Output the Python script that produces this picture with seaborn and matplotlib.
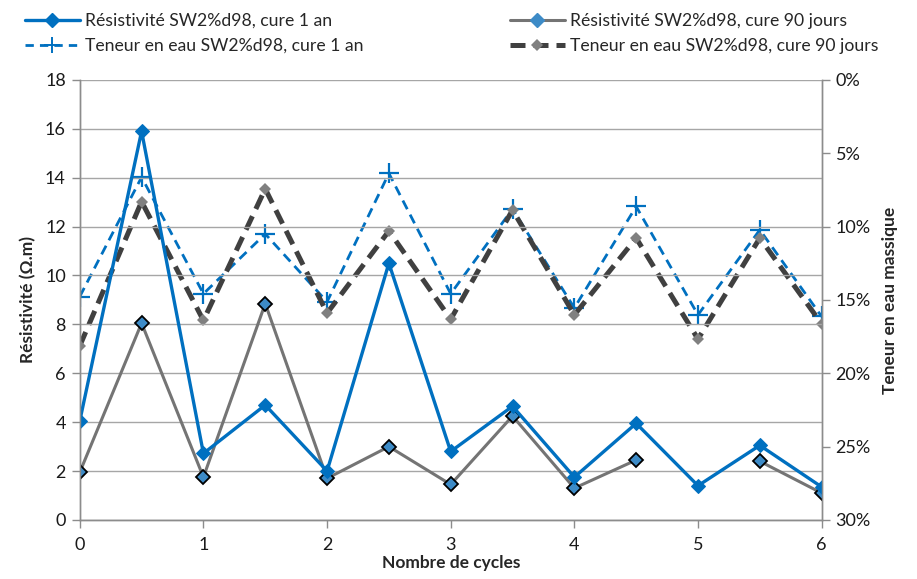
import numpy as np
import pandas as pd
import matplotlib
matplotlib.use("Agg")
import matplotlib.pyplot as plt
import seaborn as sns
from matplotlib.ticker import FuncFormatter, MultipleLocator
from matplotlib.lines import Line2D

cycles = [0, 0.5, 1, 1.5, 2, 2.5, 3, 3.5, 4, 4.5, 5, 5.5, 6]
res_1an = [4.05, 15.9, 2.72, 4.7, 2.0, 10.5, 2.8, 4.65, 1.75, 3.95, 1.4, 3.05, 1.35]
res_90j = [1.95, 8.05, 1.75, 8.85, 1.7, 3.0, 1.45, 4.25, 1.3, 2.45, np.nan, 2.4, 1.1]
eau_1an = [14.77, 6.63, 14.58, 10.5, 15.13, 6.37, 14.58, 8.8, 15.55, 8.63, 16.02, 10.22, 16.13]
eau_90j = [18.13, 8.3, 16.4, 7.43, 15.9, 10.3, 16.32, 8.87, 16.02, 10.78, 17.67, 10.78, 16.63]

lab_res_1an = "Résistivité SW2%d98, cure 1 an"
lab_res_90j = "Résistivité SW2%d98, cure 90 jours"
lab_eau_1an = "Teneur en eau SW2%d98, cure 1 an"
lab_eau_90j = "Teneur en eau SW2%d98, cure 90 jours"

sns.set_style("white")
plt.rcParams["font.family"] = ["Lato", "DejaVu Sans"]

BLUE = "#0070C0"
GRAY = "#747474"
DGRAY = "#404040"

fig = plt.figure(figsize=(9.17, 5.79), dpi=100)
ax = fig.add_axes([0.087, 0.102, 0.809, 0.76])
ax2 = ax.twinx()

df1 = pd.DataFrame({"x": cycles, "y": res_1an})
df2 = pd.DataFrame({"x": cycles, "y": res_90j})
df2["seg"] = np.cumsum(pd.isna(df2["y"]).astype(int))
df2 = df2.dropna()
df3 = pd.DataFrame({"x": cycles, "y": eau_1an})
df4 = pd.DataFrame({"x": cycles, "y": eau_90j})

ax.set_ylim(0, 18)
ax.set_xlim(0, 6)
ax.yaxis.set_major_locator(MultipleLocator(2))
ax.xaxis.set_major_locator(MultipleLocator(1))
ax.grid(axis="y", color="#a6a6a6", lw=1.0)
ax.grid(axis="x", visible=False)
ax.set_axisbelow(True)

sns.lineplot(data=df3, x="x", y="y", ax=ax2, color=BLUE, lw=2.0,
             linestyle=(0, (3.5, 2.2)), marker="+", markersize=14, mew=1.6,
             mec=BLUE, mfc=BLUE, legend=False)
sns.lineplot(data=df4, x="x", y="y", ax=ax2, color=DGRAY, lw=3.6,
             linestyle=(0, (3, 1.6)), marker="D", markersize=6, mew=0,
             mfc="#808080", legend=False)

sns.lineplot(data=df2, x="x", y="y", units="seg", estimator=None, ax=ax,
             color=GRAY, lw=2.2, marker="D", markersize=7, mfc="#3d8bc7",
             mec="black", mew=1.3, legend=False)
sns.lineplot(data=df1, x="x", y="y", ax=ax, color=BLUE, lw=2.4, marker="D",
             markersize=7, mfc=BLUE, mec=BLUE, legend=False)

ax.set_zorder(ax2.get_zorder() + 1)
ax.patch.set_visible(False)

ax2.set_ylim(30, 0)
ax2.yaxis.set_major_locator(MultipleLocator(5))
ax2.yaxis.set_major_formatter(FuncFormatter(lambda v, p: f"{v:.0f}%"))
ax2.grid(False)

for a in (ax, ax2):
    for s in a.spines.values():
        s.set_color("#8c8c8c")
        s.set_linewidth(1.0)
    a.spines["top"].set_visible(False)
    a.tick_params(axis="both", colors="#8c8c8c", labelcolor="#1a1a1a",
                  labelsize=13, length=6, width=1, direction="out")
ax.tick_params(axis="y", left=True, pad=4)
ax.tick_params(axis="x", bottom=True, pad=6)
ax2.tick_params(axis="y", right=True, pad=4)

ax.set_xlabel("Nombre de cycles", fontsize=12.5, fontweight="bold", labelpad=2)
ax.set_ylabel("Résistivité (Ω.m)", fontsize=12.5, fontweight="bold", labelpad=6)
ax2.set_ylabel("Teneur en eau massique", fontsize=12.5, fontweight="bold", labelpad=8)

h1 = Line2D([], [], color=BLUE, lw=2.4, marker="D", markersize=7, mfc=BLUE, mec=BLUE)
h2 = Line2D([], [], color=BLUE, lw=2.0, linestyle=(0, (3, 2.2)), marker="+", markersize=12, mew=1.4, mec=BLUE)
h3 = Line2D([], [], color=GRAY, lw=2.2, marker="D", markersize=7, mfc="#3d8bc7", mec="#3d8bc7")
h4 = Line2D([], [], color=DGRAY, lw=3.6, linestyle=(0, (3, 1.6)), marker="D", markersize=6, mew=0, mfc="#808080")
fig.legend([h1, h2, h3, h4], [lab_res_1an, lab_eau_1an, lab_res_90j, lab_eau_90j],
           ncol=2, loc="upper left", bbox_to_anchor=(0.01, 1.005), frameon=False,
           fontsize=12.7, handlelength=3.1, handletextpad=0.3, columnspacing=8.3,
           labelspacing=0.5)

fig.savefig("out.png", dpi=100)
